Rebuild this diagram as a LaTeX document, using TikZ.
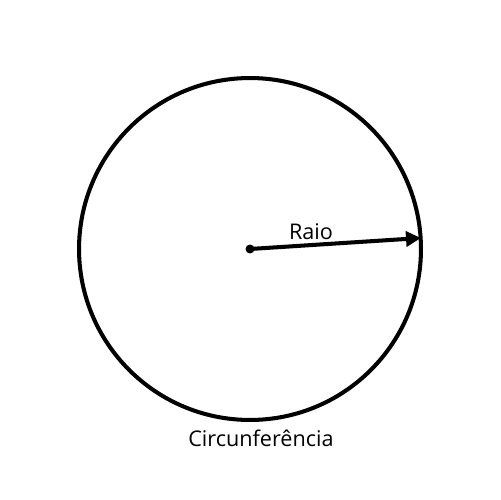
\documentclass[tikz,border=0pt]{standalone}
\usepackage{fontspec}
\setmainfont{Open Sans}
\usepackage{xcolor}
\usetikzlibrary{arrows.meta}

\begin{document}
\begin{tikzpicture}[x=0.02cm,y=-0.02cm,line width=2.3pt]
            \useasboundingbox (0,0) rectangle (500,500);
            % circunferencia
            \node[draw,circle,minimum size=6.84cm,inner sep=0pt] (circ) at (250,249) {};
            \node[fill,circle,inner sep=0pt,minimum size=0.18cm] (centro) at (250,249) {};
            \coordinate (borda) at (421,238);
            \draw[-{Triangle[length=0.3cm,width=0.3cm]}] (centro.center) -- (borda);
            
            \node[font=\fontsize{12.3}{14}\selectfont] (raio) at (311,232) {Raio};
            \node[font=\fontsize{12.3}{14}\selectfont] (nome) at (261,438) {Circunferência};
        \end{tikzpicture}
\end{document}
